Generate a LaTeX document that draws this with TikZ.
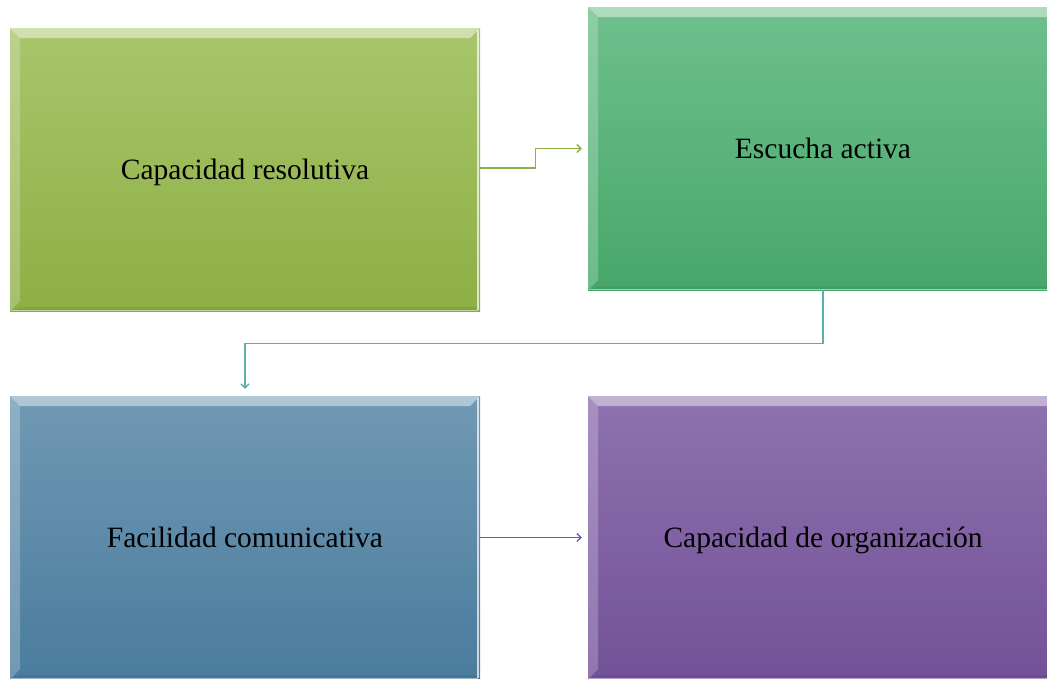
\documentclass[tikz,border=0pt]{standalone}
\usepackage{fontspec}
\setmainfont{Liberation Serif}
\usetikzlibrary{arrows.meta}
\definecolor{gA}{HTML}{A8C66C}
\definecolor{gB}{HTML}{8DAF44}
\definecolor{eA}{HTML}{6EC08C}
\definecolor{eB}{HTML}{47A76A}
\definecolor{bA}{HTML}{7099B3}
\definecolor{bB}{HTML}{4A7C9E}
\definecolor{pA}{HTML}{8E72AF}
\definecolor{pB}{HTML}{735198}
\definecolor{cG}{HTML}{8DB04A}
\definecolor{cT}{HTML}{5DB0A6}
\definecolor{cP}{HTML}{7A5AA0}
\tikzset{
  box/.style={minimum width=470pt, minimum height=283pt, inner sep=0pt,
    font=\fontsize{29.5}{34}\selectfont, text=black,
    text height=20pt, text depth=0pt,
    path picture={
      \def\b{10}
      \coordinate (NW) at (path picture bounding box.north west);
      \coordinate (NE) at (path picture bounding box.north east);
      \coordinate (SW) at (path picture bounding box.south west);
      \coordinate (SE) at (path picture bounding box.south east);
      \fill[white, opacity=0.45] (NW) -- (NE) -- ([shift={(-\b,\b)}]NE) -- ([shift={(\b,\b)}]NW) -- cycle;
      \fill[white, opacity=0.22] (NW) -- ([shift={(\b,\b)}]NW) -- ([shift={(\b,-\b)}]SW) -- (SW) -- cycle;
      \fill[black, opacity=0.06] (SW) -- ([shift={(\b,-4)}]SW) -- ([shift={(-4,-4)}]SE) -- (SE) -- cycle;
      \draw[white, opacity=0.7, line width=1.2pt] ([shift={(-2,2)}]NE) -- ([shift={(-2,-1)}]SE);
      \draw[white, opacity=0.5, line width=1pt] ([shift={(1,-1)}]SW) -- ([shift={(-2,-1)}]SE);
    }},
  conn/.style={line width=1.4pt, -{Straight Barb[length=4pt,width=8pt]}, shorten >=6pt},
}
\begin{document}
\begin{tikzpicture}[x=1pt,y=-1pt]
\useasboundingbox (0,0) rectangle (1047,678);
\clip (0,0) rectangle (1047,678);
\node[box, top color=gA, bottom color=gB] (b1) at (245,169.5) {Capacidad resolutiva};
\node[box, top color=eA, bottom color=eB] (b2) at (823,148.5) {Escucha activa};
\node[box, top color=bA, bottom color=bB] (b3) at (245,537.5) {Facilidad comunicativa};
\node[box, top color=pA, bottom color=pB] (b4) at (823,537.5) {Capacidad de organización};
\coordinate (k1) at ([yshift=1.5]b1.east);
\draw[conn, draw=cG] (k1) -- ++(55,0) |- (b2.west);
\draw[conn, draw=cT, shorten >=7pt] (b2.south) -- ++(0,53) -| (b3.north);
\draw[conn, draw=cP] (b3.east) -- (b4.west);
\end{tikzpicture}
\end{document}
